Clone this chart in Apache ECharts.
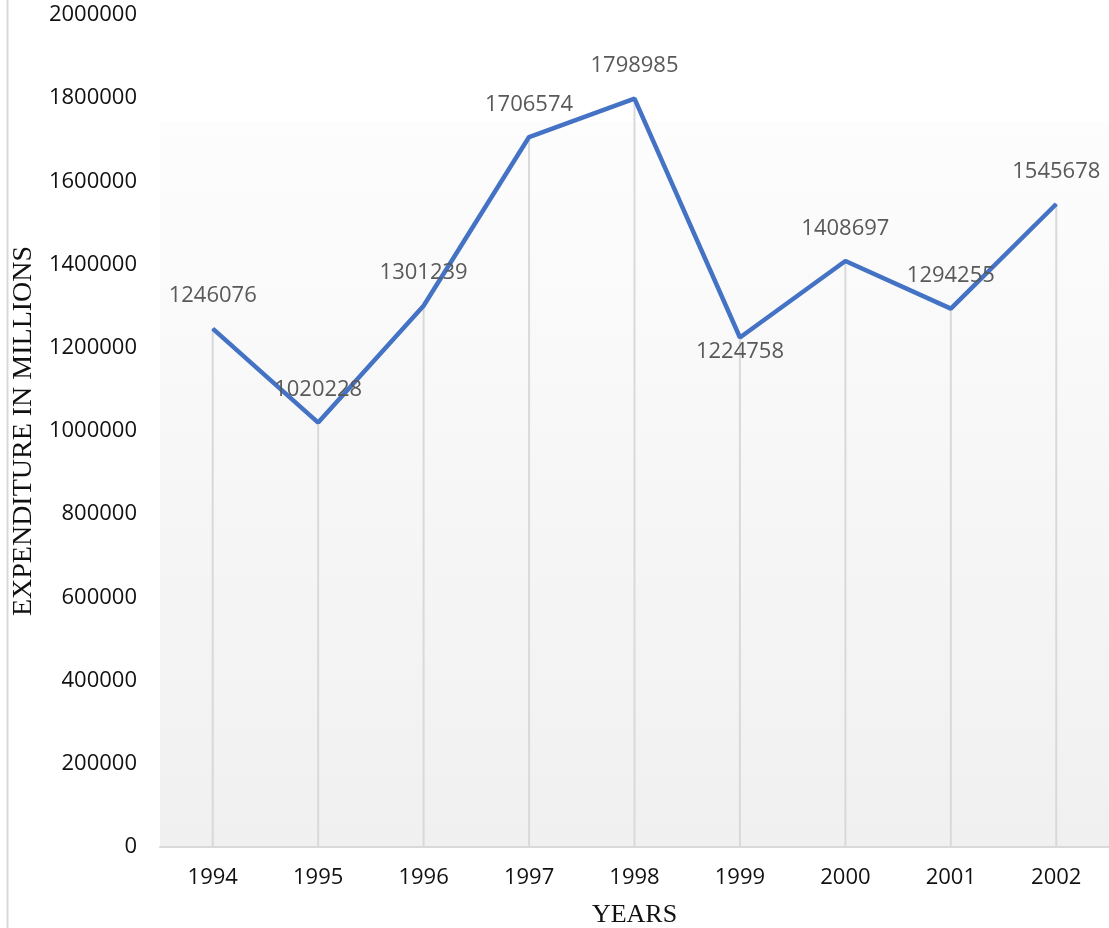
<!DOCTYPE html>
<html>
<head>
<meta charset="utf-8">
<script src="https://cdn.jsdelivr.net/npm/echarts@6/dist/echarts.min.js"></script>
<style>
html,body{margin:0;padding:0;background:#fff;}
#main{width:1109px;height:928px;}
</style>
</head>
<body>
<div id="main"></div>
<script>
const years = ['1994','1995','1996','1997','1998','1999','2000','2001','2002'];
const expenditure = [1246076, 1020228, 1301239, 1706574, 1798985, 1224758, 1408697, 1294255, 1545678];
const yMin = 0, yMax = 2000000, yStep = 200000;
const yTitle = 'EXPENDITURE IN MILLIONS';
const xTitle = 'YEARS';

const chart = echarts.init(document.getElementById('main'), null, {renderer: 'canvas'});
const labelFont = {fontFamily: 'Open Sans', fontSize: 22};
chart.setOption({
  animation: false,
  backgroundColor: '#ffffff',
  grid: {left: 160, right: 0, top: 15, bottom: 81, containLabel: false, outerBoundsMode: 'none'},
  graphic: [
    {type: 'rect', z: -10, shape: {x: 160, y: 122, width: 949, height: 725},
     style: {fill: new echarts.graphic.LinearGradient(0, 0, 0, 1, [
       {offset: 0, color: '#fdfdfd'}, {offset: 1, color: '#f0f0f0'}])}},
    {type: 'line', z: -10, shape: {x1: 7.5, y1: 0, x2: 7.5, y2: 928},
     style: {stroke: '#d9d9d9', lineWidth: 2}}
  ],
  xAxis: {
    type: 'category',
    data: years,
    boundaryGap: true,
    axisLine: {show: true, lineStyle: {color: '#d9d9d9', width: 2}},
    axisTick: {show: false},
    axisLabel: Object.assign({color: '#111', margin: 20}, labelFont),
    splitLine: {show: false},
    name: xTitle,
    nameLocation: 'middle',
    nameGap: 55,
    nameTextStyle: {fontFamily: 'Liberation Serif', fontSize: 26, color: '#111'}
  },
  yAxis: {
    type: 'value',
    min: yMin, max: yMax, interval: yStep,
    axisLine: {show: false},
    axisTick: {show: false},
    splitLine: {show: false},
    axisLabel: Object.assign({color: '#111', margin: 23, formatter: v => String(v)}, labelFont),
    name: yTitle,
    nameLocation: 'middle',
    nameGap: 111,
    nameTextStyle: {fontFamily: 'Liberation Serif', fontSize: 28, color: '#111'}
  },
  series: [
    {
      type: 'bar',
      data: expenditure,
      barWidth: 2,
      silent: true,
      z: 1,
      itemStyle: {color: '#d9d9d9'},
      label: {show: false}
    },
    {
      type: 'line',
      data: expenditure.map((v, i) => i === 5 ? {value: v, label: {position: 'bottom', distance: 3}} : v),
      symbol: 'circle',
      symbolSize: 1,
      showSymbol: true,
      z: 3,
      itemStyle: {color: '#4472C4'},
      lineStyle: {color: '#4472C4', width: 4.5},
      label: Object.assign({show: true, position: 'top', distance: 21, color: '#595959'}, labelFont)
    }
  ]
});
</script>
</body>
</html>
